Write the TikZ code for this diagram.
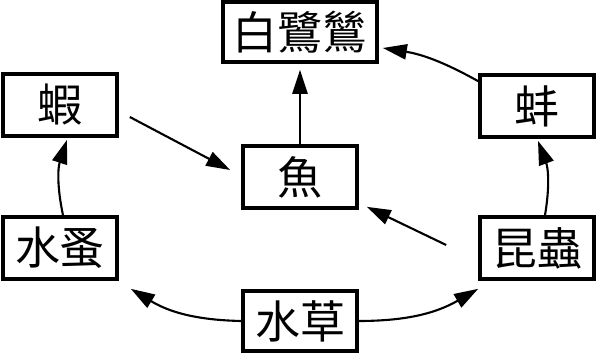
\documentclass[tikz,border=0pt]{standalone}
\usepackage{fontspec}
\setmainfont{Noto Sans CJK TC}
\usetikzlibrary{arrows.meta}
\begin{document}
\begin{tikzpicture}[
    box/.style={draw, line width=2.6pt, rectangle, minimum width=2.85cm, minimum height=1.55cm, inner sep=0pt, align=center, font=\fontsize{32}{36}\selectfont},
    arrow/.style={-{Triangle[length=6mm, width=3.8mm]}, line width=1.5pt}
]
\useasboundingbox (0,0) rectangle (14.9,8.825);
% Food web nodes
\node[box, minimum width=3.85cm, minimum height=1.5cm] (egret) at (7.5,8.025) {白鷺鷥};
\node[box] (shrimp) at (1.5,6.2) {蝦};
\node[box] (clam) at (13.425,6.175) {蚌};
\node[box] (fish) at (7.5,4.4) {魚};
\node[box] (flea) at (1.5,2.625) {水蚤};
\node[box] (insect) at (13.425,2.625) {昆蟲};
\node[box, minimum height=1.5cm] (weed) at (7.5,0.8) {水草};
% Arrows
\draw[arrow, shorten >=0.15cm] (fish) -- (egret);
\draw[arrow] ([xshift=0.275cm, yshift=-0.3cm]shrimp.east) -- ([xshift=-0.275cm, yshift=0.175cm]fish.west);
\draw[arrow] ([xshift=-0.8cm, yshift=0.075cm]insect.west) -- ([xshift=0.2cm, yshift=0.075cm]fish.south east);
\draw[arrow] (weed.west) to[bend left=15] ([xshift=0.3cm, yshift=-0.2cm]flea.south east);
\draw[arrow] (weed.east) to[bend right=15] ([yshift=-0.2cm]insect.south west);
\draw[arrow] ([xshift=0.075cm]flea.north) to[bend left=15] ([xshift=0.175cm, yshift=-0.05cm]shrimp.south);
\draw[arrow] ([xshift=0.2cm]insect.north) to[bend right=15] ([xshift=0.025cm, yshift=-0.05cm]clam.south);
\draw[arrow] ([yshift=-0.2cm]clam.north west) to[bend right=10] ([xshift=0.1cm, yshift=-0.4cm]egret.east);
\end{tikzpicture}
\end{document}
